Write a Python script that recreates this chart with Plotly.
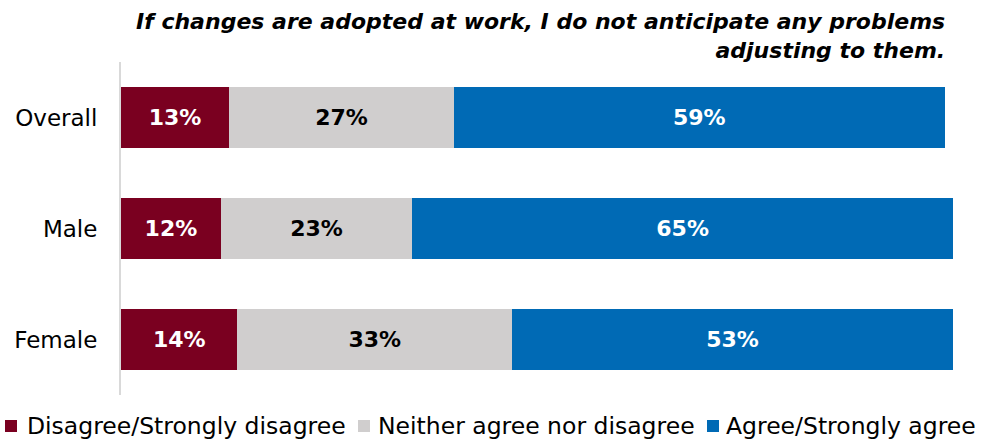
import plotly.graph_objects as go

# Survey responses by group (percent)
groups = ["Overall", "Male", "Female"]
disagree = [13, 12, 14]
neutral = [27, 23, 33]
agree = [59, 65, 53]

series = [
    ("Disagree/Strongly disagree", disagree, "#7A0020", "white"),
    ("Neither agree nor disagree", neutral, "#D0CECE", "black"),
    ("Agree/Strongly agree", agree, "#006AB5", "white"),
]

FONT = "DejaVu Sans"
W, H = 987, 442
M = dict(l=121, r=34, t=62, b=47)
PW = W - M["l"] - M["r"]
PH = H - M["t"] - M["b"]


def px_x(px):
    """Pixel column -> paper x."""
    return (px - M["l"]) / PW


def px_y(py):
    """Pixel row (from top) -> paper y."""
    return (H - M["b"] - py) / PH


fig = go.Figure()
for name, vals, color, tcolor in series:
    fig.add_trace(go.Bar(
        y=groups, x=vals, name=name, orientation="h",
        marker=dict(color=color, line=dict(width=0)),
        text=[f"{v}%" for v in vals], textposition="inside",
        insidetextanchor="middle",
        textfont=dict(family=FONT, size=22, color=tcolor),
        texttemplate="<b>%{text}</b>",
        width=0.556,
        hoverinfo="skip",
    ))

# Legend row drawn below the plot: colour swatch + label per series
legend_swatch_left = [5, 358, 707]
legend_text_left = [26, 377, 725]
legend_row_mid = 426
shapes = []
annotations = []
for (name, _, color, _), sx, tx in zip(series, legend_swatch_left, legend_text_left):
    shapes.append(dict(
        type="rect", xref="paper", yref="paper",
        x0=px_x(sx), x1=px_x(sx + 12),
        y0=px_y(legend_row_mid - 6), y1=px_y(legend_row_mid + 6),
        fillcolor=color, line=dict(width=0),
    ))
    annotations.append(dict(
        text=name, xref="paper", yref="paper",
        x=px_x(tx), xanchor="left", y=px_y(legend_row_mid), yanchor="middle",
        showarrow=False, font=dict(family=FONT, size=23.5, color="black"),
        xshift=0, borderpad=0,
    ))

annotations.append(dict(
    text="<b><i>If changes are adopted at work, I do not anticipate any problems<br>adjusting to them.</i></b>",
    xref="paper", yref="paper", x=px_x(947), xanchor="right",
    y=1.0, yanchor="bottom", yshift=-3, align="right", showarrow=False,
    font=dict(family=FONT, size=22, color="black"),
))

fig.update_layout(
    barmode="stack",
    width=W, height=H,
    margin=dict(**M, autoexpand=False),
    plot_bgcolor="white", paper_bgcolor="white",
    font=dict(family=FONT, size=22, color="black"),
    xaxis=dict(range=[0, 100], visible=False, fixedrange=True),
    yaxis=dict(
        autorange=False, range=[2.5, -0.5], showgrid=False,
        showline=True, linecolor="#D9D9D9", linewidth=2,
        ticks="", ticklabelstandoff=17,
        tickfont=dict(family=FONT, size=23, color="black"),
    ),
    showlegend=False,
    shapes=shapes,
    annotations=annotations,
)

fig.write_html("out.html")
